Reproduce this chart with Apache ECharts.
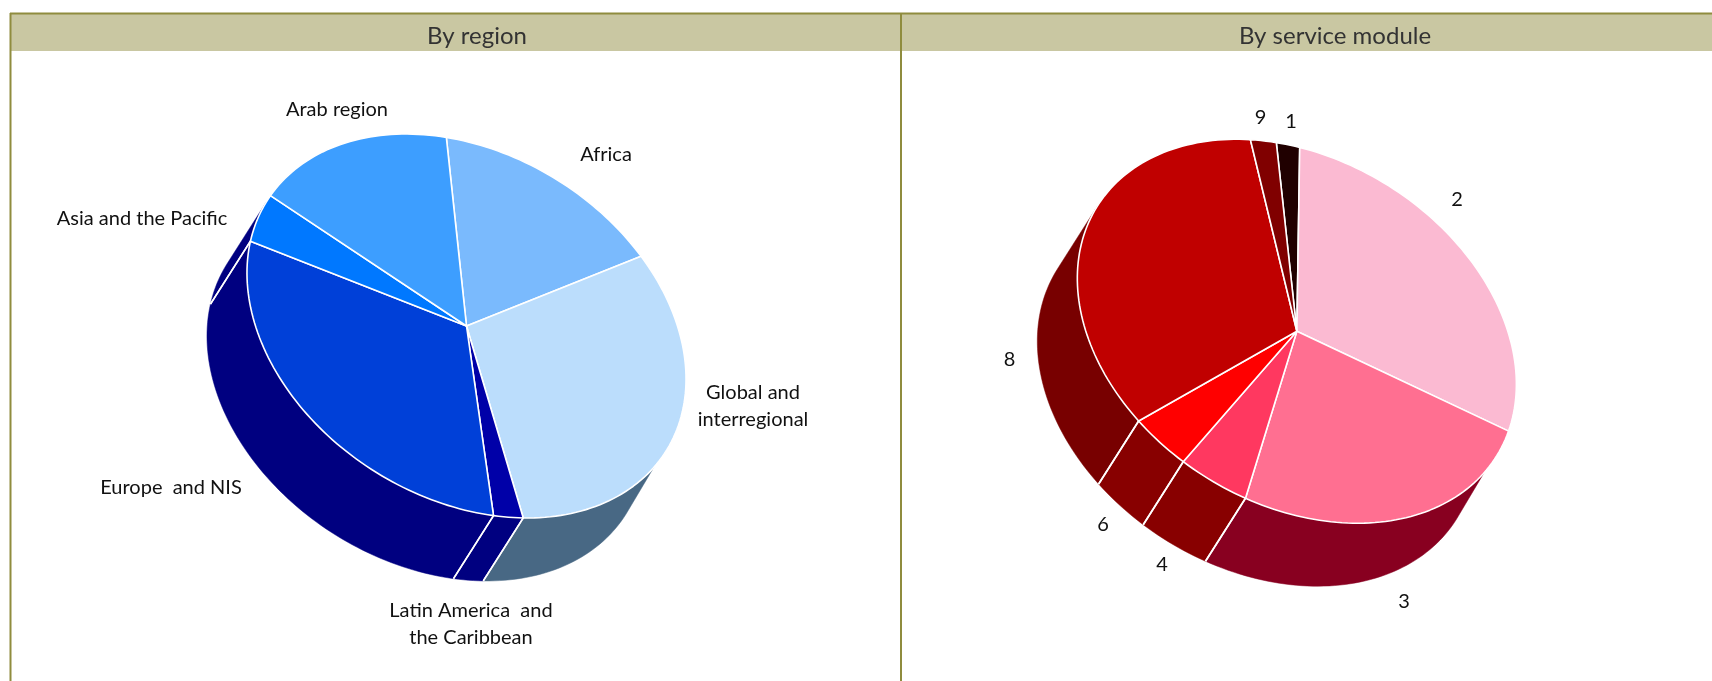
<!DOCTYPE html>
<html><head><meta charset="utf-8">
<style>html,body{margin:0;padding:0;background:#fff}#c{width:1712px;height:681px}</style>
<script src="https://cdn.jsdelivr.net/npm/echarts@6/dist/echarts.min.js"></script>
</head><body><div id="c"></div>
<script>
// ---- data (shares of each pie, percent)
const regionNames = ['Africa','Global and\ninterregional','Latin America  and\nthe Caribbean','Europe  and NIS','Asia and the Pacific','Arab region'];
const regionValues = [16.1, 31.2, 2.2, 29.8, 4.6, 16.1];
const moduleNames = ['1','2','3','4','6','8','9'];
const moduleValues = [1.7, 29.05, 24.5, 4.9, 4.15, 33.8, 1.9];
const panelTitles = ['By region','By service module'];
// ---- styles
const regionTop = ['#7ABAFD','#BBDDFC','#0000A8','#0040D8','#0078FF','#3D9EFF'];
const regionWall = ['#486884','#486884','#000080','#000080','#000080','#3D9EFF'];
const moduleTop = ['#200000','#FBBAD2','#FF6F91','#FF3860','#FF0000','#C00000','#800000'];
const moduleWall = ['#200000','#FBBAD2','#880020','#880000','#880000','#780000','#800000'];
// ---- layout
const regionPie = {cx:466.5, cy:326, start:-119.8};
const modulePie = {cx:1296.85, cy:331.25, start:-119.9};
const shape3d = {A:235.5, B:172, tilt:32, dx:-40, dy:63, wallFrom:7, floorFrom:0, wallTo:180};
const regionLabelAt = [[606,155],[753,406.5],[471,624],[171,487.5],[142,219],[337,109.5]];
const moduleLabelAt = [[1291,122],[1457,200],[1404,602],[1162,565],[1103,524.5],[1009.5,360],[1260.5,117.5]];
const FONT = 'Lato';

const rad = d => d*Math.PI/180;
const ct = Math.cos(rad(shape3d.tilt)), st = Math.sin(rad(shape3d.tilt));
function pt(p,t){
  const X = shape3d.A*Math.cos(rad(t)), Y = shape3d.B*Math.sin(rad(t));
  return [p.cx + X*ct - Y*st, p.cy + X*st + Y*ct];
}
function arc(p,a,b){
  const n = Math.max(2, Math.ceil((b-a)/1.5)), out=[];
  for(let i=0;i<=n;i++) out.push(pt(p,a+(b-a)*i/n));
  return out;
}
function range(values,p,i){
  const total = values.reduce((s,v)=>s+v,0);
  let a = p.start;
  for(let k=0;k<i;k++) a += values[k]/total*360;
  return [a, a+values[i]/total*360];
}
const off = q => [q[0]+shape3d.dx, q[1]+shape3d.dy];

function wallSeries(values,p,colors){
  return {type:'custom',coordinateSystem:'none',z:1,silent:true,animation:false,
    data:values.map(v=>[v]),
    renderItem(params,api){
      const [a,b] = range(values,p,params.dataIndex);
      const lo = Math.max(a,shape3d.wallFrom), hi = Math.min(b,shape3d.wallTo); // only the arc facing the viewer has a wall
      if(hi<=lo) return {type:'group',children:[]};
      const top = arc(p,lo,hi);
      const floor = arc(p,Math.max(a,shape3d.floorFrom),hi).map(off).reverse();
      const children = [{type:'polygon',shape:{points:top.concat(floor)},
        style:{fill:colors[params.dataIndex],stroke:colors[params.dataIndex],lineWidth:0.5}}];
      [a,b].forEach(e=>{ if(e>shape3d.wallFrom&&e<shape3d.wallTo-0.5){const q=pt(p,e),r=off(q);
        children.push({type:'line',z2:5,shape:{x1:q[0],y1:q[1],x2:r[0],y2:r[1]},style:{stroke:'#fff',lineWidth:1.6}});}});
      return {type:'group',children};
    }};
}
function topSeries(values,p,colors){
  return {type:'custom',coordinateSystem:'none',z:2,silent:true,animation:false,
    data:values.map(v=>[v]),
    renderItem(params,api){
      const [a,b] = range(values,p,params.dataIndex);
      return {type:'polygon',shape:{points:[[p.cx,p.cy]].concat(arc(p,a,b))},
        style:{fill:colors[params.dataIndex],stroke:'#fff',lineWidth:1.6,lineJoin:'round'}};
    }};
}
function labelSeries(names,at){
  return {type:'custom',coordinateSystem:'none',z:3,silent:true,animation:false,
    data:names.map((n,i)=>[i]),
    renderItem(params){
      const i=params.dataIndex;
      return {type:'text',style:{text:names[i],x:at[i][0],y:at[i][1],align:'center',verticalAlign:'middle',
        font:'20px '+FONT,fill:'#111',lineHeight:27}};
    }};
}
const FRAME='#8F8C3E', BAND='#C9C7A2';
const chart = echarts.init(document.getElementById('c'),null,{renderer:'canvas'});
chart.setOption({
  backgroundColor:'#fff',
  animation:false,
  title:[
    {text:panelTitles[0],left:472,top:19,textAlign:'center',textStyle:{fontFamily:FONT,fontSize:24,fontWeight:'normal',color:'#333'}},
    {text:panelTitles[1],left:1330,top:19,textAlign:'center',textStyle:{fontFamily:FONT,fontSize:24,fontWeight:'normal',color:'#333'}}
  ],
  graphic:[
    {type:'rect',z:0,shape:{x:10,y:13,width:1702,height:38},style:{fill:BAND}},
    {type:'line',z:0,shape:{x1:10,y1:13.5,x2:1712,y2:13.5},style:{stroke:FRAME,lineWidth:2}},
    {type:'line',z:0,shape:{x1:10.5,y1:13,x2:10.5,y2:681},style:{stroke:FRAME,lineWidth:2}},
    {type:'line',z:0,shape:{x1:901,y1:13,x2:901,y2:681},style:{stroke:FRAME,lineWidth:2}}
  ],
  series:[
    wallSeries(regionValues,regionPie,regionWall),
    topSeries(regionValues,regionPie,regionTop),
    labelSeries(regionNames,regionLabelAt),
    wallSeries(moduleValues,modulePie,moduleWall),
    topSeries(moduleValues,modulePie,moduleTop),
    labelSeries(moduleNames,moduleLabelAt)
  ]
});
</script></body></html>
